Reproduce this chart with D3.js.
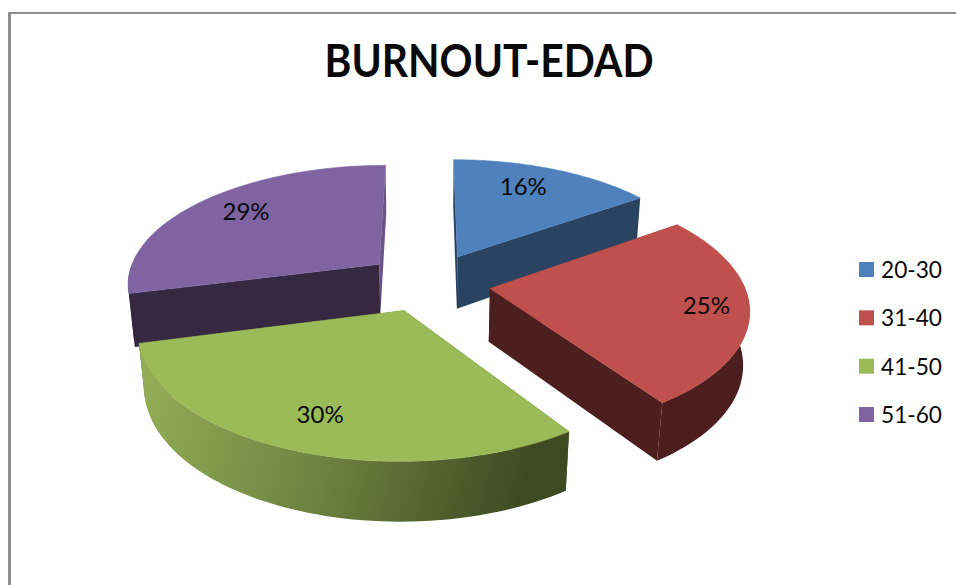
<!DOCTYPE html>
<html>
<head>
<meta charset="utf-8">
<script src="https://cdn.jsdelivr.net/npm/d3@7"></script>
<style>
  html, body { margin: 0; padding: 0; background: #fff; }
  svg { display: block; }
  text { font-family: Lato, "Open Sans", sans-serif; fill: #0a0a0a; }
</style>
</head>
<body>
<svg id="chart" width="956" height="585"></svg>
<script>
const title = "BURNOUT-EDAD";
const categories = ["20-30", "31-40", "41-50", "51-60"];
const shares = [16, 25, 30, 29];
const topColors = ["#4f81bd", "#c0504d", "#9bbb59", "#8064a2"];
const wallColors = ["#2a4361", "#4c1f1e", "#3f4a22", "#352840"];
const endFaceColors = ["#2a4361", "#4c1f1e", "#3f4a22", "#6a5489"];
const labelNudge = [[-11, 0], [15, 1], [4, 0], [6, -2]];

const svg = d3.select("#chart");

// Perspective view of the exploded disc: the world disc has radius 1,
// z runs from the top face (0) to the bottom face (1).
const view = { cx: 428, cy: 282, rx: 253, ry: 118.7, tilt: 0.15, lean: 0.02, depth: 54, explode: 0.249, skew: 0.055 };
const project = (X, Y, z) => {
  const w = 1 + view.tilt * Y + view.lean * z;
  return [view.cx + view.rx * X / w, view.cy - view.ry * Y / w + view.depth * z / w];
};
// The camera's slight yaw pulls the right half of the rim anticlockwise
const viewAngle = t => t < Math.PI ? t - view.skew * Math.sin(t) : t;

const slices = d3.pie().sort(null).value(d => d)(shares);
const line = d3.line();

const defs = svg.append("defs");
const frontShade = defs.append("linearGradient")
  .attr("id", "green-front").attr("gradientUnits", "userSpaceOnUse")
  .attr("x1", 140).attr("y1", 400).attr("x2", 560).attr("y2", 520);
frontShade.append("stop").attr("offset", 0).attr("stop-color", "#93ad55");
frontShade.append("stop").attr("offset", 0.45).attr("stop-color", "#6c8240");
frontShade.append("stop").attr("offset", 0.9).attr("stop-color", "#3f4a22");
frontShade.append("stop").attr("offset", 1).attr("stop-color", "#3f4a22");

// Frame lines along the top and left edges
svg.append("rect").attr("x", 8).attr("y", 12).attr("width", 948).attr("height", 2).attr("fill", "#8e8e8e");
svg.append("rect").attr("x", 8).attr("y", 12).attr("width", 3).attr("height", 573).attr("fill", "#8e8e8e");

svg.append("text").attr("x", 489).attr("y", 77).attr("text-anchor", "middle")
  .attr("font-size", 46).attr("font-weight", 700)
  .attr("textLength", 329).attr("lengthAdjust", "spacingAndGlyphs").text(title);

// Samples along one slice's outer rim
const rim = (s, z) => {
  const mid = (s.startAngle + s.endAngle) / 2;
  const ox = view.explode * Math.sin(mid), oy = view.explode * Math.cos(mid);
  const at = (r, a) => {
    const t = viewAngle(a);
    return project(ox + r * Math.sin(t), oy + r * Math.cos(t), z);
  };
  const angles = d3.range(0, 61).map(i => s.startAngle + (s.endAngle - s.startAngle) * i / 60);
  return {
    apex: project(ox, oy, z),
    arc: angles.map(a => at(1, a)),
    front: angles.filter(a => Math.cos(a) < 0).map(a => at(1, a)),
    at
  };
};

// Paint order runs back to front so nearer slices cover the walls behind them
const order = [3, 0, 1, 2];
order.forEach(i => {
  const s = slices[i];
  const top = rim(s, 0), bottom = rim(s, 1);
  const wall = i === 2 ? "url(#green-front)" : wallColors[i];
  const g = svg.append("g");
  const n = top.arc.length - 1;
  const face = (points, fill) => g.append("path").attr("d", line(points) + "Z").attr("fill", fill);
  face([top.apex, top.arc[n], bottom.arc[n], bottom.apex], endFaceColors[i]);
  face([top.apex, top.arc[0], bottom.arc[0], bottom.apex], wallColors[i]);
  // Only the part of the rim that faces the viewer gets an outer wall
  if (top.front.length > 1) face(top.front.concat(bottom.front.slice().reverse()), wall);
  g.append("path")
    .attr("d", line([top.apex].concat(top.arc)) + "Z")
    .attr("fill", topColors[i])
    .attr("stroke", topColors[i]).attr("stroke-width", 0.6);
});

// Percentage labels sit on each top face near the slice's bisector
slices.forEach((s, i) => {
  const mid = (s.startAngle + s.endAngle) / 2;
  const p = rim(s, 0).at(0.78, mid);
  svg.append("text")
    .attr("x", p[0] + labelNudge[i][0]).attr("y", p[1] + 8.5 + labelNudge[i][1])
    .attr("text-anchor", "middle").attr("font-size", 24)
    .text(s.value + "%");
});

// Legend
const legendY = d3.scalePoint().domain(categories).range([269.5, 414.5]);
const legend = svg.selectAll("g.key").data(categories).join("g").attr("class", "key")
  .attr("transform", d => `translate(0,${legendY(d)})`);
legend.append("rect").attr("x", 859).attr("y", -7.5).attr("width", 15).attr("height", 15)
  .attr("fill", (d, i) => topColors[i]);
legend.append("text").attr("x", 881).attr("y", 8.5).attr("font-size", 24)
  .attr("textLength", 61).attr("lengthAdjust", "spacingAndGlyphs").text(d => d);
</script>
</body>
</html>
